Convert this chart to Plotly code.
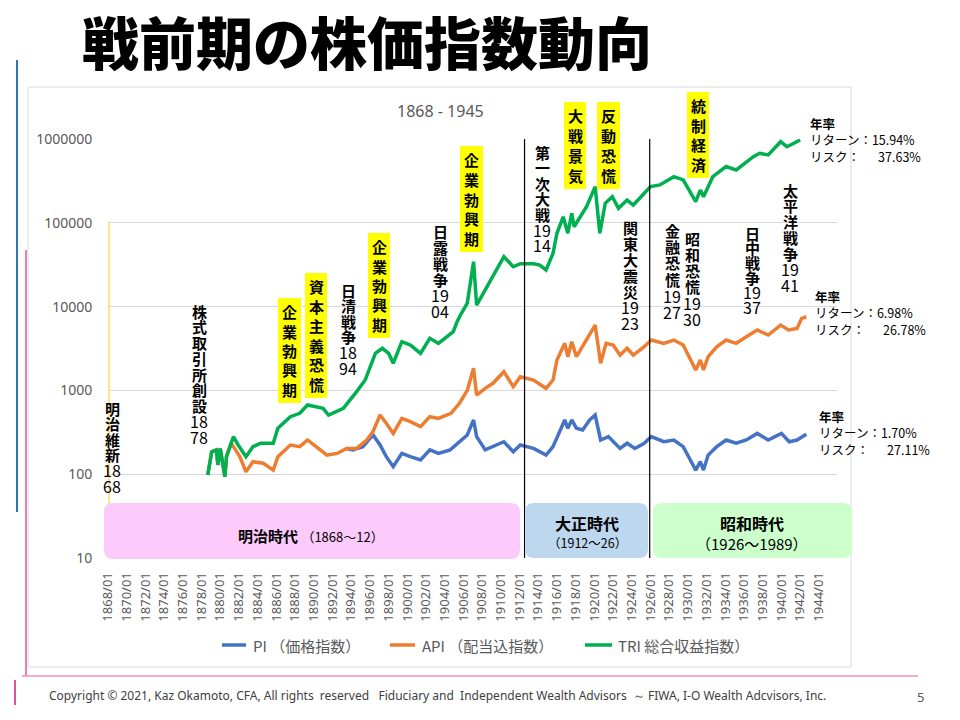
import plotly.graph_objects as go

# ---------------- data ----------------
tri_dates = ["1878-09","1879-02","1879-08","1879-10","1880-01","1880-07","1880-09","1881-06","1881-12","1882-10",
             "1883-07","1884-05","1885-09","1886-03","1887-07","1888-07","1889-05","1891-01","1891-08","1893-03",
             "1894-08","1895-07","1896-08","1897-05","1898-01","1898-07","1899-06","1900-05","1901-06","1902-06",
             "1903-05","1904-12","1905-05","1905-08","1906-06","1907-02","1907-06","1908-05","1909-03","1910-05",
             "1911-05","1912-02","1913-07","1914-03","1914-11","1915-08","1916-01","1916-09","1917-03","1917-08",
             "1917-11","1919-03","1920-02","1920-08","1921-03","1921-12","1922-08","1923-07","1924-03","1925-05",
             "1926-01","1927-01","1928-07","1929-07","1930-03","1930-11","1931-05","1931-09","1932-09","1934-02",
             "1935-03","1937-01","1937-09","1938-08","1939-12","1940-08","1941-05","1942-01"]
tri_values = [98,185,195,129,203,93,162,281,223,162,
              213,234,234,353,486,533,670,611,508,611,
              966,1330,2773,3180,2773,2108,3811,3480,2773,4180,
              3645,5010,6600,7570,11000,34400,10400,15800,22700,39400,
              29900,32500,32500,31300,27400,43200,75000,118000,75000,130000,
              89800,156000,270000,75000,171000,205000,149000,187000,163000,225000,
              270000,283000,355000,325000,246000,179000,246000,205000,355000,469000,
              427000,615000,675000,645000,929000,809000,889000,973000]

api_dates = ["1878-09","1879-02","1879-08","1879-10","1880-01","1880-07","1880-09","1881-03","1881-06","1882-02",
             "1882-10","1883-07","1884-08","1885-09","1886-03","1887-07","1888-07","1889-05","1890-04","1891-06",
             "1892-07","1893-07","1894-08","1895-09","1896-05","1897-02","1897-10","1898-07","1899-06","1900-05",
             "1901-06","1902-06","1903-05","1904-09","1905-08","1906-06","1907-02","1907-06","1908-05","1909-03",
             "1910-05","1911-05","1912-02","1913-07","1914-11","1915-08","1916-01","1916-11","1917-03","1917-08",
             "1918-02","1918-10","1920-02","1920-09","1921-04","1922-01","1922-10","1923-07","1924-03","1925-05",
             "1926-02","1927-06","1928-07","1929-07","1930-03","1930-11","1931-05","1931-09","1932-03","1933-02",
             "1934-02","1935-03","1936-04","1937-06","1938-08","1939-12","1940-10","1941-09","1942-03","1942-09"]
api_values = [98,185,195,129,203,93,162,234,213,162,
              107,141,135,112,162,223,213,256,213,169,
              177,203,203,256,322,508,405,307,464,424,
              369,486,464,533,702,1000,1835,881,1059,1216,
              1672,1107,1456,1330,1059,1330,2306,3645,2525,3811,
              2525,3320,6025,2108,3645,3480,2642,3180,2642,3320,
              3990,3645,3990,3480,2525,1750,2306,1750,2525,3320,
              3990,3645,4375,5260,4580,6025,5260,5500,7250,7570]

pi_dates = ["1893-07","1894-03","1895-04","1896-05","1897-02","1897-10","1898-07","1899-06","1900-05","1901-06",
            "1902-06","1903-05","1904-08","1905-08","1906-06","1907-02","1907-06","1908-05","1909-03","1910-05",
            "1911-05","1912-02","1913-07","1914-11","1915-08","1916-03","1916-11","1917-03","1917-08","1918-02",
            "1918-10","1919-07","1920-02","1920-09","1921-07","1922-10","1923-07","1924-05","1925-05","1926-02",
            "1927-06","1928-07","1929-07","1930-03","1930-11","1931-05","1931-09","1932-03","1933-02","1934-02",
            "1935-03","1936-04","1937-06","1938-08","1940-01","1940-11","1941-09","1942-09"]
pi_values = [203,195,213,294,223,162,123,177,162,148,
             195,177,195,244,294,444,281,195,213,244,
             185,223,203,169,213,307,444,353,444,353,
             337,444,508,256,281,203,234,203,234,281,
             244,256,213,155,112,141,112,169,213,256,
             234,256,307,256,307,244,256,300]

series_names = ["PI （価格指数）", "API （配当込指数）", "TRI 総合収益指数）"]
series_colors = ["#4472C4", "#ED7D31", "#00B050"]

y_tickvals = [10, 100, 1000, 10000, 100000, 1000000]
y_ticktext = ["10", "100", "1000", "10000", "100000", "1000000"]

events_plain = [
    ["明", "治", "維", "新", "18", "68"],
    ["株", "式", "取", "引", "所", "創", "設", "18", "78"],
    ["日", "清", "戦", "争", "18", "94"],
    ["日", "露", "戦", "争", "19", "04"],
    ["第", "一", "次", "大", "戦", "19", "14"],
    ["関", "東", "大", "震", "災", "19", "23"],
    ["金", "融", "恐", "慌", "19", "27"],
    ["昭", "和", "恐", "慌", "19", "30"],
    ["日", "中", "戦", "争", "19", "37"],
    ["太", "平", "洋", "戦", "争", "19", "41"],
]
events_yellow = ["企業勃興期", "資本主義恐慌", "企業勃興期", "企業勃興期", "大戦景気", "反動恐慌", "統制経済"]

stats = [("15.94%", "37.63%"), ("6.98%", "26.78%"), ("1.70%", "27.11%")]
eras = [("明治時代", "（1868～12）"), ("大正時代", "（1912～26）"), ("昭和時代", "（1926～1989）")]

# ---------------- layout helpers (pixel -> paper) ----------------
W, H = 960, 720
L, R, T, B = 108, 837, 139, 558


def px(x):
    return (x - L) / (R - L)


def py(y):
    return (B - y) / (B - T)


JP = "Noto Sans CJK JP"
GRAY = "#595959"

fig = go.Figure()
for name, d, v, c in zip(series_names, [pi_dates, api_dates, tri_dates],
                         [pi_values, api_values, tri_values], series_colors):
    fig.add_trace(go.Scatter(x=d, y=v, mode="lines", name=name,
                             line=dict(color=c, width=3.5), showlegend=False))

shapes = []
annotations = []

# chart frame
shapes.append(dict(type="rect", xref="paper", yref="paper", x0=px(28), x1=px(851), y0=py(667), y1=py(87),
                   line=dict(color="#d9d9d9", width=1), fillcolor="white", layer="below"))
# decorative slide lines
shapes.append(dict(type="line", xref="paper", yref="paper", x0=px(17), x1=px(17), y0=py(60), y1=py(512),
                   line=dict(color="#2E75B6", width=2)))
shapes.append(dict(type="line", xref="paper", yref="paper", x0=px(26), x1=px(26), y0=py(250), y1=py(676),
                   line=dict(color="#E0559A", width=1.5)))
shapes.append(dict(type="line", xref="paper", yref="paper", x0=px(15), x1=px(15), y0=py(680), y1=py(705),
                   line=dict(color="#E0559A", width=2)))
shapes.append(dict(type="line", xref="paper", yref="paper", x0=px(22), x1=px(918), y0=py(676), y1=py(676),
                   line=dict(color="#F08CBE", width=1.5)))

# vertical era lines
shapes.append(dict(type="line", xref="x", yref="paper", x0="1912-07-15", x1="1912-07-15", y0=0, y1=1,
                   line=dict(color="black", width=1.2)))
shapes.append(dict(type="line", xref="x", yref="paper", x0="1925-12-01", x1="1925-12-01", y0=0, y1=1,
                   line=dict(color="black", width=1.2)))
shapes.append(dict(type="line", xref="paper", yref="paper", x0=px(109), x1=px(109), y0=0, y1=py(223),
                   line=dict(color="#FFD966", width=1.5)))


def rrect(x0, y0, x1, y1, r, color):
    pts = lambda x, y: f"{px(x):.5f},{py(y):.5f}"
    path = (f"M {pts(x0 + r, y0)} L {pts(x1 - r, y0)} Q {pts(x1, y0)} {pts(x1, y0 + r)} "
            f"L {pts(x1, y1 - r)} Q {pts(x1, y1)} {pts(x1 - r, y1)} L {pts(x0 + r, y1)} "
            f"Q {pts(x0, y1)} {pts(x0, y1 - r)} L {pts(x0, y0 + r)} Q {pts(x0, y0)} {pts(x0 + r, y0)} Z")
    return dict(type="path", xref="paper", yref="paper", path=path, fillcolor=color,
                line=dict(width=0), layer="above")


# era boxes
shapes.append(rrect(104, 503, 520, 559, 9, "#FCCBFC"))
shapes.append(rrect(525, 503, 648, 558, 9, "#BDD7EE"))
shapes.append(rrect(653, 503, 852, 558, 9, "#CCFFCC"))

annotations.append(dict(x=px(311), y=py(535), text=f"<b>{eras[0][0]}</b> <span style='font-size:13px'>{eras[0][1]}</span>",
                        font=dict(family=JP, size=15, color="black")))
annotations.append(dict(x=px(587), y=py(523), text=f"<b>{eras[1][0]}</b>", font=dict(family=JP, size=16, color="black")))
annotations.append(dict(x=px(587), y=py(542), text=eras[1][1], font=dict(family=JP, size=12.5, color="black")))
annotations.append(dict(x=px(752), y=py(523), text=f"<b>{eras[2][0]}</b>", font=dict(family=JP, size=16, color="black")))
annotations.append(dict(x=px(752), y=py(543), text=eras[2][1], font=dict(family=JP, size=15, color="black")))

# plain vertical event labels: (x centre, first line centre, step)
plain_pos = [(112, 408, 15.5), (199, 311, 15.75), (348, 290, 15.6), (440, 231, 16.0), (542, 152, 15.5),
             (630, 227, 16.0), (672, 230, 16.4), (692, 238, 16.2), (752, 233, 14.7), (790, 190, 15.8)]
for lines, (xc, y0, st) in zip(events_plain, plain_pos):
    for i, s in enumerate(lines):
        if s.isdigit():
            annotations.append(dict(x=px(xc), y=py(y0 + i * st), text=s,
                                    font=dict(family=JP, size=16, color="black")))
        else:
            annotations.append(dict(x=px(xc), y=py(y0 + i * st), text=f"<b>{s}</b>",
                                    font=dict(family=JP, size=15, color="black")))

# yellow highlighted labels: box (x0, x1, top, bottom)
yellow_pos = [(278, 301, 298, 403), (305, 327, 273, 398), (368, 390, 233, 338), (460, 483, 146, 252),
              (564, 586, 102, 189), (597, 620, 102, 189), (687, 709, 92, 178)]
for word, (x0, x1, t, b) in zip(events_yellow, yellow_pos):
    shapes.append(dict(type="rect", xref="paper", yref="paper", x0=px(x0), x1=px(x1), y0=py(b), y1=py(t),
                       fillcolor="#FFFF00", line=dict(width=0), layer="above"))
    n = len(word)
    st = (b - t - 8) / n
    for i, ch in enumerate(word):
        annotations.append(dict(x=px((x0 + x1) / 2), y=py(t + 4 + st * (i + 0.5)), text=f"<b>{ch}</b>",
                                font=dict(family=JP, size=15, color="black")))

# annual stats labels
stat_pos = [(808, 140), (813, 313), (817, 433)]
for (ret, risk), (x, y) in zip(stats, stat_pos):
    annotations.append(dict(x=px(x), y=py(y), xanchor="left", align="left",
                            text=f"<b>年率</b><br>リターン：{ret}<br>リスク：\u3000\u00a0 {risk}",
                            font=dict(family=JP, size=12.5, color="black")))

# chart subtitle
annotations.append(dict(x=px(440), y=py(111), text="1868 - 1945", font=dict(family="Noto Sans", size=16, color=GRAY)))

# manual legend
legend_pos = [(222, 246, 251), (390, 415, 420), (585, 612, 616)]
for name, c, (a, b, tx) in zip(series_names, series_colors, legend_pos):
    shapes.append(dict(type="line", xref="paper", yref="paper", x0=px(a), x1=px(b), y0=py(645), y1=py(645),
                       line=dict(color=c, width=3.5)))
    annotations.append(dict(x=px(tx), y=py(645), xanchor="left", text=name,
                            font=dict(family=JP, size=15, color=GRAY)))

# slide title & footer
annotations.append(dict(x=px(367), y=py(40), text="戦前期の株価指数動向",
                        font=dict(family=JP, size=57, color="black", weight=900)))
annotations.append(dict(x=px(47), y=py(695), xanchor="left",
                        text="Copyright © 2021, Kaz Okamoto, CFA, All rights\u00a0 reserved\u00a0\u00a0 Fiduciary and\u00a0 "
                             "Independent Wealth Advisors\u00a0 ～ FIWA, I-O Wealth Adcvisors, Inc.",
                        font=dict(family="Liberation Sans Narrow, Noto Sans", size=12, color="#404040")))
annotations.append(dict(x=px(920), y=py(697), text="5", font=dict(family="Noto Sans", size=13, color=GRAY)))

for a in annotations:
    a.setdefault("xref", "paper")
    a.setdefault("yref", "paper")
    a.setdefault("showarrow", False)
    a.setdefault("xanchor", "center")
    a.setdefault("yanchor", "middle")

fig.update_layout(
    width=W, height=H,
    margin=dict(l=L, r=W - R, t=T, b=H - B, pad=0),
    paper_bgcolor="white", plot_bgcolor="rgba(0,0,0,0)",
    shapes=shapes, annotations=annotations,
    xaxis=dict(type="date", range=["1868-01-01", "1945-12-10"], tick0="1868-01-01", dtick="M24",
               tickformat="%Y/%m", tickangle=-90, showgrid=False, zeroline=False, showline=False,
               ticks="outside", ticklen=8, tickcolor="rgba(0,0,0,0)",
               tickfont=dict(family="Noto Sans", size=13, color=GRAY)),
    yaxis=dict(type="log", range=[1, 6], tickvals=y_tickvals, ticktext=y_ticktext,
               showgrid=True, gridcolor="#d9d9d9", gridwidth=1, zeroline=False, showline=False,
               ticks="outside", ticklen=12, tickcolor="rgba(0,0,0,0)",
               tickfont=dict(family="Noto Sans", size=14, color=GRAY)),
    font=dict(family=JP),
)

fig.write_html("out.html", config={"displayModeBar": False},
               post_script="document.body.style.margin='0';document.body.style.overflow='hidden';")
